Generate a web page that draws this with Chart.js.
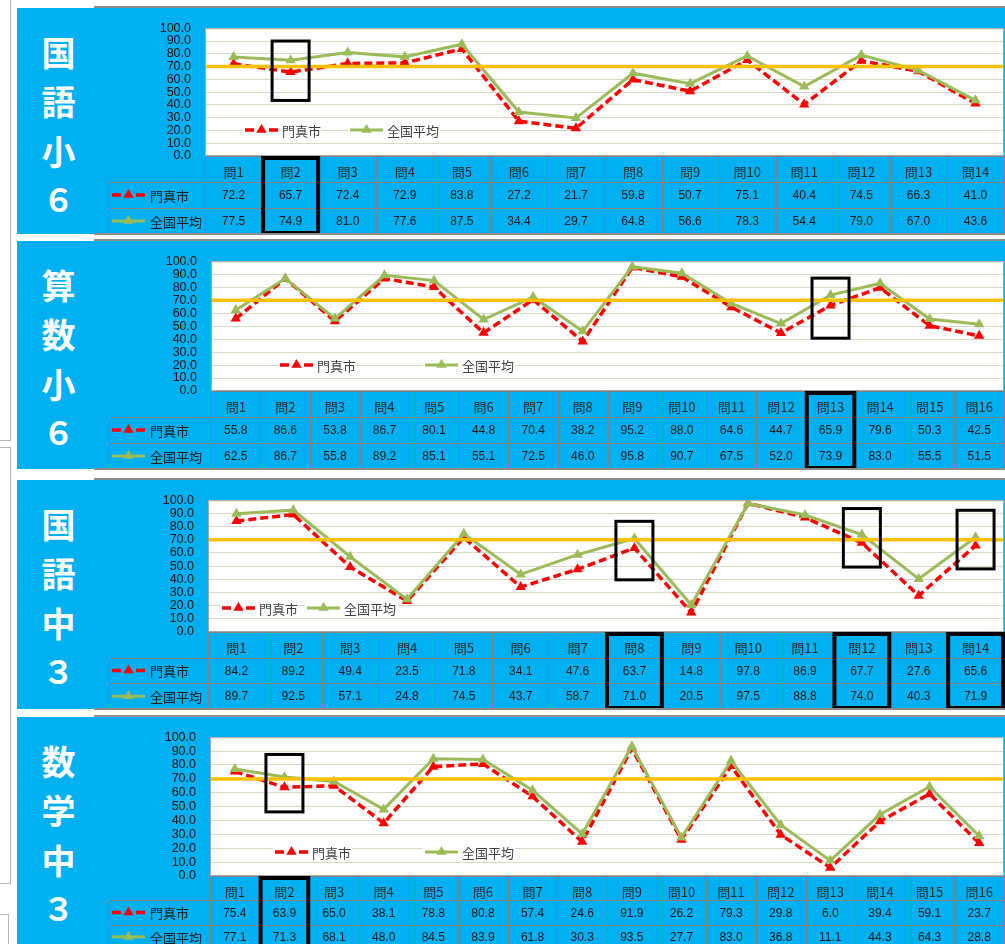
<!DOCTYPE html>
<html lang="ja">
<head>
<meta charset="utf-8">
<title>全国学力・学習状況調査 設問別正答率</title>
<script src="https://cdn.jsdelivr.net/npm/chart.js@4.4.1/dist/chart.umd.min.js"></script>
<style>
  html, body { margin: 0; padding: 0; overflow: hidden; background: #fff; }
  body { position: relative; width: 1005px; height: 944px; }
  .panel { position: absolute; left: 17px; width: 993px; background: #00b0f0; }
  .panel canvas { position: absolute; left: 0; top: 0; }
  .edge { position: absolute; left: 94px; width: 916px; height: 2px; background: #8c8c8c; }
  .subject { position: absolute; left: 0; width: 83px; height: 44px; line-height: 44px; color: #fff;
             text-align: center; font: bold 34px "Noto Sans CJK JP", sans-serif; }
  .subject.num { font-size: 32px; }
  .frame { position: absolute; border: 1px solid #b4b4b4; }
</style>
</head>
<body>
<div class="frame" style="left:-1px;top:-1px;width:10px;height:440px"></div>
<div class="frame" style="left:-1px;top:447px;width:10px;height:435px"></div>
<div class="frame" style="left:-1px;top:914px;width:8px;height:100px"></div>
<script>
const RED = '#ff0000', GREEN = '#9bbb59', ORANGE = '#ffc000';

const labels14 = ['問1', '問2', '問3', '問4', '問5', '問6', '問7', '問8', '問9', '問10', '問11', '問12', '問13', '問14'];
const labels16 = ['問1', '問2', '問3', '問4', '問5', '問6', '問7', '問8', '問9', '問10', '問11', '問12', '問13', '問14', '問15', '問16'];
const seriesNames = ['門真市', '全国平均'];
const target = 70;

// 国語 小6
const jaE6City   = [72.2, 65.7, 72.4, 72.9, 83.8, 27.2, 21.7, 59.8, 50.7, 75.1, 40.4, 74.5, 66.3, 41.0];
const jaE6Nation = [77.5, 74.9, 81.0, 77.6, 87.5, 34.4, 29.7, 64.8, 56.6, 78.3, 54.4, 79.0, 67.0, 43.6];
// 算数 小6
const maE6City   = [55.8, 86.6, 53.8, 86.7, 80.1, 44.8, 70.4, 38.2, 95.2, 88.0, 64.6, 44.7, 65.9, 79.6, 50.3, 42.5];
const maE6Nation = [62.5, 86.7, 55.8, 89.2, 85.1, 55.1, 72.5, 46.0, 95.8, 90.7, 67.5, 52.0, 73.9, 83.0, 55.5, 51.5];
// 国語 中3
const jaJ3City   = [84.2, 89.2, 49.4, 23.5, 71.8, 34.1, 47.6, 63.7, 14.8, 97.8, 86.9, 67.7, 27.6, 65.6];
const jaJ3Nation = [89.7, 92.5, 57.1, 24.8, 74.5, 43.7, 58.7, 71.0, 20.5, 97.5, 88.8, 74.0, 40.3, 71.9];
// 数学 中3
const maJ3City   = [75.4, 63.9, 65.0, 38.1, 78.8, 80.8, 57.4, 24.6, 91.9, 26.2, 79.3, 29.8, 6.0, 39.4, 59.1, 23.7];
const maJ3Nation = [77.1, 71.3, 68.1, 48.0, 84.5, 83.9, 61.8, 30.3, 93.5, 27.7, 83.0, 36.8, 11.1, 44.3, 64.3, 28.8];

// questions picked out with a box (index, value range of the box)
const jaE6Marks = [{ q: 1, lo: 43.5, hi: 90 }];
const maE6Marks = [{ q: 12, lo: 40.7, hi: 87 }];
const jaJ3Marks = [{ q: 7, lo: 39.6, hi: 84 }, { q: 11, lo: 49.3, hi: 93.7 }, { q: 13, lo: 47.9, hi: 92.4 }];
const maJ3Marks = [{ q: 1, lo: 46.2, hi: 87.6 }];

const panels = [
  { subject: ['国', '語', '小', '６'], top: 8, height: 226, plotLeft: 205, plotTop: 18, plotBottom: 156,
    labels: labels14, city: jaE6City, nation: jaE6Nation, marks: jaE6Marks, legendX: [245, 350], legendY: 130 },
  { subject: ['算', '数', '小', '６'], top: 241, height: 228, plotLeft: 211, plotTop: 250, plotBottom: 391,
    labels: labels16, city: maE6City, nation: maE6Nation, marks: maE6Marks, legendX: [280, 425], legendY: 365 },
  { subject: ['国', '語', '中', '３'], top: 480, height: 229, plotLeft: 208, plotTop: 488, plotBottom: 632,
    labels: labels14, city: jaJ3City, nation: jaJ3Nation, marks: jaJ3Marks, legendX: [222, 307], legendY: 608 },
  { subject: ['数', '学', '中', '３'], top: 717, height: 232, plotLeft: 210, plotTop: 726, plotBottom: 876,
    labels: labels16, city: maJ3City, nation: maJ3Nation, marks: maJ3Marks, legendX: [275, 425], legendY: 852 },
];

const PANEL_LEFT = 17, PANEL_W = 993, PLOT_RIGHT = 1008, YAXIS_W = 60;

function triangle(ctx, x, y, r, color) {
  ctx.beginPath();
  ctx.moveTo(x, y - r);
  ctx.lineTo(x + r * 0.95, y + r * 0.6);
  ctx.lineTo(x - r * 0.95, y + r * 0.6);
  ctx.closePath();
  ctx.fillStyle = color;
  ctx.fill();
}

// line + marker sample used in the legend and the table
function swatch(ctx, x, y, k) {
  ctx.save();
  ctx.beginPath();
  if (k === 0) {
    ctx.strokeStyle = RED;
    ctx.lineWidth = 3.5;
    ctx.moveTo(x, y); ctx.lineTo(x + 9, y);
    ctx.moveTo(x + 24, y); ctx.lineTo(x + 33, y);
  } else {
    ctx.strokeStyle = GREEN;
    ctx.lineWidth = 3;
    ctx.moveTo(x, y); ctx.lineTo(x + 33, y);
  }
  ctx.stroke();
  triangle(ctx, x + 16.5, y - 0.5, 5.5, k === 0 ? RED : GREEN);
  ctx.restore();
}

function sheetPlugin(p) {
  return {
    id: 'sheet',
    beforeDraw(chart) {
      const { ctx, chartArea: a } = chart;
      ctx.save();
      ctx.fillStyle = '#fff';
      ctx.fillRect(a.left, a.top, a.width, a.height);
      ctx.restore();
    },
    afterDatasetsDraw(chart) {
      const { ctx, chartArea: a, scales: { x, y } } = chart;
      ctx.save();
      // 70% line
      const ty = y.getPixelForValue(target);
      ctx.strokeStyle = ORANGE;
      ctx.lineWidth = 3.5;
      ctx.beginPath();
      ctx.moveTo(a.left, ty);
      ctx.lineTo(a.right, ty);
      ctx.stroke();

      ctx.strokeStyle = '#a6a6a6';
      ctx.lineWidth = 1;
      ctx.strokeRect(a.left + 0.5, a.top + 0.5, a.width - 1, a.height - 1);

      // legend inside the plot
      const ly = p.legendY - p.top;
      ctx.font = '13px "Noto Sans CJK JP", sans-serif';
      ctx.textBaseline = 'middle';
      p.legendX.forEach((lx, k) => {
        const sx = lx - PANEL_LEFT;
        const tw = ctx.measureText(seriesNames[k]).width;
        ctx.fillStyle = '#fff';
        ctx.fillRect(sx - 2, ly - 7, 40 + tw, 14);
        swatch(ctx, sx, ly, k);
        ctx.fillStyle = '#404040';
        ctx.fillText(seriesNames[k], sx + 37, ly + 1);
      });

      ctx.strokeStyle = '#000';
      ctx.lineWidth = 3;
      p.marks.forEach(m => {
        const cx = x.getPixelForValue(m.q);
        const y1 = y.getPixelForValue(m.hi), y2 = y.getPixelForValue(m.lo);
        ctx.strokeRect(cx - 18.5, y1, 37, y2 - y1);
      });
      ctx.restore();
    },
    afterDraw(chart) {
      const { ctx, chartArea: a, scales: { x } } = chart;
      const n = p.labels.length, w = a.width / n;
      const t0 = a.bottom, rowH = (chart.height - t0) / 3;
      const legLeft = 109 - PANEL_LEFT;
      ctx.save();
      ctx.strokeStyle = '#7f7f7f';
      ctx.lineWidth = 1;
      ctx.beginPath();
      ctx.moveTo(a.left, t0 + 0.5); ctx.lineTo(a.right, t0 + 0.5);
      for (let r = 1; r <= 2; r++) {
        const ry = Math.round(t0 + r * rowH) + 0.5;
        ctx.moveTo(legLeft, ry); ctx.lineTo(a.right, ry);
      }
      for (let i = 0; i <= n; i++) {
        const cx = Math.round(a.left + i * w) + 0.5;
        ctx.moveTo(cx, t0); ctx.lineTo(cx, chart.height);
      }
      ctx.moveTo(legLeft + 0.5, t0 + rowH); ctx.lineTo(legLeft + 0.5, chart.height);
      ctx.stroke();

      // series rows
      ctx.textBaseline = 'middle';
      [p.city, p.nation].forEach((vals, k) => {
        const ry = t0 + (k + 1.5) * rowH + 1;
        swatch(ctx, legLeft + 3, ry - 1, k);
        ctx.fillStyle = '#1a1a1a';
        ctx.textAlign = 'left';
        ctx.font = '13px "Noto Sans CJK JP", sans-serif';
        ctx.fillText(seriesNames[k], legLeft + 41, ry);
        ctx.textAlign = 'center';
        ctx.font = '12px "Liberation Sans", sans-serif';
        vals.forEach((v, i) => ctx.fillText(v.toFixed(1), x.getPixelForValue(i), ry));
      });

      // boxed questions in the table
      ctx.strokeStyle = '#000';
      ctx.lineWidth = 4;
      p.marks.forEach(m => {
        const l = a.left + m.q * w;
        ctx.strokeRect(l + 1, t0 + 2, w - 2, chart.height - t0 - 3);
      });
      ctx.restore();
    }
  };
}

panels.forEach(p => {
  const top = document.createElement('div');
  top.className = 'edge';
  top.style.top = (p.top - 2) + 'px';
  document.body.appendChild(top);

  const div = document.createElement('div');
  div.className = 'panel';
  div.style.top = p.top + 'px';
  div.style.height = p.height + 'px';
  document.body.appendChild(div);

  p.subject.forEach((ch, k) => {
    const s = document.createElement('div');
    s.className = 'subject' + (k === 3 ? ' num' : '');
    s.textContent = ch;
    s.style.top = (41 + k * 49.4 - 22) + 'px';
    div.appendChild(s);
  });

  const bottom = document.createElement('div');
  bottom.className = 'edge';
  bottom.style.top = (p.top + p.height - 1) + 'px';
  document.body.appendChild(bottom);

  const canvas = document.createElement('canvas');
  canvas.width = PANEL_W;
  canvas.height = p.height;
  div.appendChild(canvas);

  const tableH = p.top + p.height - p.plotBottom;

  new Chart(canvas, {
    type: 'line',
    data: {
      labels: p.labels,
      datasets: [
        {
          label: seriesNames[0], data: p.city,
          borderColor: RED, backgroundColor: RED, borderWidth: 3.5, borderDash: [8, 4],
          pointStyle: 'triangle', pointRadius: 6, pointBorderWidth: 0, order: 1
        },
        {
          label: seriesNames[1], data: p.nation,
          borderColor: GREEN, backgroundColor: GREEN, borderWidth: 3,
          pointStyle: 'triangle', pointRadius: 6, pointBorderWidth: 0, order: 0
        }
      ]
    },
    options: {
      responsive: false,
      animation: false,
      devicePixelRatio: 1,
      layout: {
        padding: {
          left: p.plotLeft - PANEL_LEFT - YAXIS_W,
          top: p.plotTop - p.top,
          right: PANEL_W - (PLOT_RIGHT - PANEL_LEFT),
          bottom: 0
        }
      },
      plugins: { legend: { display: false }, tooltip: { enabled: false } },
      scales: {
        x: {
          offset: true,
          grid: { display: false },
          border: { display: false },
          ticks: {
            autoSkip: false, maxRotation: 0, padding: 0, color: '#2b2b2b',
            font: { family: '"Noto Sans CJK JP", sans-serif', size: 13 }
          },
          afterFit(scale) { scale.height = tableH; }
        },
        y: {
          min: 0, max: 100,
          grid: { color: '#dcd7c4', drawTicks: false },
          border: { display: false },
          ticks: {
            stepSize: 10, padding: 14, color: '#111', autoSkip: false,
            font: { family: '"Liberation Sans", sans-serif', size: 12.5, lineHeight: 1 },
            callback: v => v.toFixed(1)
          },
          afterFit(scale) { scale.width = YAXIS_W; }
        }
      }
    },
    plugins: [sheetPlugin(p)]
  });
});
</script>
</body>
</html>
